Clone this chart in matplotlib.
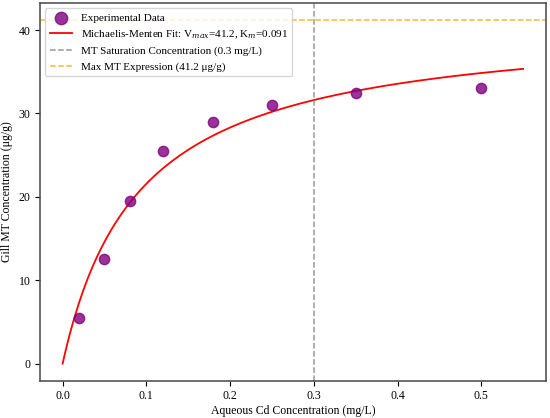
import numpy as np
import matplotlib
matplotlib.use('Agg')
import matplotlib.pyplot as plt

plt.rcParams['font.family'] = ['Liberation Serif', 'DejaVu Serif']
plt.rcParams['mathtext.fontset'] = 'dejavuserif'

# measured data
cd_conc = [0.02, 0.05, 0.08, 0.12, 0.18, 0.25, 0.35, 0.5]
mt_conc = [5.5, 12.5, 19.5, 25.5, 29.0, 31.0, 32.5, 33.0]

# fit parameters
vmax = 41.2
km = 0.091
sat_conc = 0.3
x_max = 0.55


def michaelis_menten(x, vmax, km):
    return vmax * x / (km + x)


fig, ax = plt.subplots(figsize=(5.5, 4.18), dpi=100)

x_fit = np.linspace(0, x_max, 200)
ax.scatter(cd_conc, mt_conc, s=55, color='purple', alpha=0.8,
           label='Experimental Data', zorder=3)
ax.plot(x_fit, michaelis_menten(x_fit, vmax, km), color='red', lw=1.3,
        label='Michaelis-Menten Fit: V$_{max}$=%.1f, K$_{m}$=%.3f' % (vmax, km))
ax.axvline(sat_conc, color='gray', ls='--', lw=1.1, alpha=0.8,
           label='MT Saturation Concentration (%.1f mg/L)' % sat_conc)
ax.axhline(vmax, color='orange', ls='--', lw=1.1, alpha=0.8,
           label='Max MT Expression (%.1f μg/g)' % vmax)

ax.set_xlabel('Aqueous Cd Concentration (mg/L)', fontsize=8.5, labelpad=2)
ax.set_ylabel('Gill MT Concentration (μg/g)', fontsize=8.5, labelpad=4)
ax.tick_params(labelsize=8.5, pad=3)
for sp in ax.spines.values():
    sp.set_color('#555555')
    sp.set_linewidth(1.2)
ax.legend(loc='upper left', fontsize=8, markerscale=1.2)

plt.subplots_adjust(left=0.072, right=0.993, top=0.993, bottom=0.089)
plt.savefig('out.png', dpi=100)
